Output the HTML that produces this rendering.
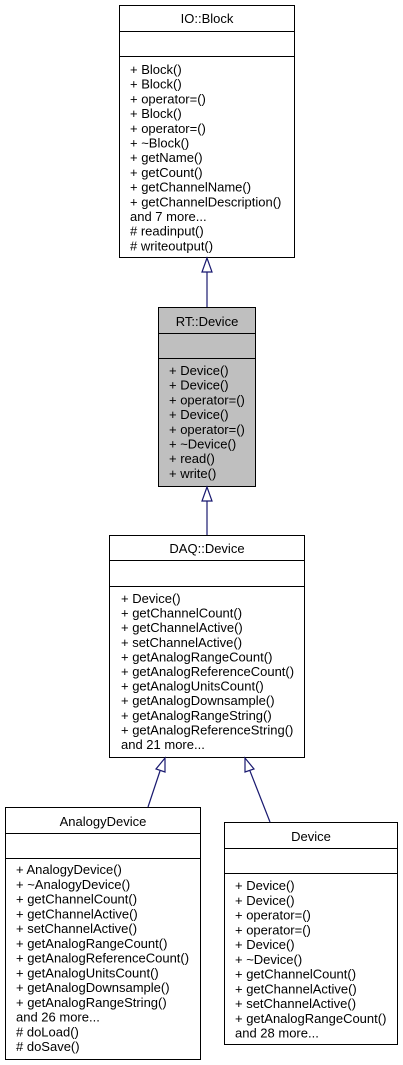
<!DOCTYPE html>
<html><head><meta charset="utf-8"><style>
html,body{margin:0;padding:0;background:#fff;}
svg{display:block;}
text{font-family:"Liberation Sans",Arial,sans-serif;font-size:13px;fill:#000;}
</style></head><body>
<svg width="403" height="1065" viewBox="0 0 403 1065" xmlns="http://www.w3.org/2000/svg">
<g stroke="#000" stroke-width="1" fill="#fff">
<rect x="119.5" y="5.5" width="175" height="252"/>
<line x1="119.5" y1="31.5" x2="294.5" y2="31.5"/>
<line x1="119.5" y1="56.5" x2="294.5" y2="56.5"/>
<rect x="158.5" y="307.5" width="97" height="179" fill="#bfbfbf"/>
<line x1="158.5" y1="333.5" x2="255.5" y2="333.5"/>
<line x1="158.5" y1="358.5" x2="255.5" y2="358.5"/>
<rect x="109.5" y="535.5" width="195" height="222"/>
<line x1="109.5" y1="560.5" x2="304.5" y2="560.5"/>
<line x1="109.5" y1="586.5" x2="304.5" y2="586.5"/>
<rect x="5.5" y="807.5" width="195" height="252"/>
<line x1="5.5" y1="833.5" x2="200.5" y2="833.5"/>
<line x1="5.5" y1="858.5" x2="200.5" y2="858.5"/>
<rect x="224.5" y="822.5" width="173" height="222"/>
<line x1="224.5" y1="848.5" x2="397.5" y2="848.5"/>
<line x1="224.5" y1="873.5" x2="397.5" y2="873.5"/>
</g>
<g stroke="#191970" stroke-width="1.2" fill="#fff">
<line x1="207" y1="272" x2="207" y2="307"/>
<polygon points="207,258 202,272 212,272"/>
<line x1="207" y1="501" x2="207" y2="535"/>
<polygon points="207,487 202,501 212,501"/>
<line x1="160" y1="771" x2="148" y2="807"/>
<polygon points="165,758 156,769 165,772"/>
<line x1="250" y1="771" x2="270" y2="822"/>
<polygon points="245,758 245,772 254,769"/>
</g>
<g>
<text x="207" y="23" text-anchor="middle">IO::Block</text>
<text x="130" y="74">+ Block()</text>
<text x="130" y="88.7">+ Block()</text>
<text x="130" y="103.4">+ operator=()</text>
<text x="130" y="118.1">+ Block()</text>
<text x="130" y="132.8">+ operator=()</text>
<text x="130" y="147.5">+ ~Block()</text>
<text x="130" y="162.2">+ getName()</text>
<text x="130" y="176.9">+ getCount()</text>
<text x="130" y="191.6">+ getChannelName()</text>
<text x="130" y="206.3">+ getChannelDescription()</text>
<text x="130" y="221">and 7 more...</text>
<text x="130" y="235.7"># readinput()</text>
<text x="130" y="250.4"># writeoutput()</text>

<text x="207" y="326" text-anchor="middle">RT::Device</text>
<text x="169" y="375">+ Device()</text>
<text x="169" y="389.7">+ Device()</text>
<text x="169" y="404.4">+ operator=()</text>
<text x="169" y="419.1">+ Device()</text>
<text x="169" y="433.8">+ operator=()</text>
<text x="169" y="448.5">+ ~Device()</text>
<text x="169" y="463.2">+ read()</text>
<text x="169" y="477.9">+ write()</text>

<text x="207" y="553" text-anchor="middle">DAQ::Device</text>
<text x="121" y="603">+ Device()</text>
<text x="121" y="617.6">+ getChannelCount()</text>
<text x="121" y="632.2">+ getChannelActive()</text>
<text x="121" y="646.8">+ setChannelActive()</text>
<text x="121" y="661.4">+ getAnalogRangeCount()</text>
<text x="121" y="676">+ getAnalogReferenceCount()</text>
<text x="121" y="690.6">+ getAnalogUnitsCount()</text>
<text x="121" y="705.2">+ getAnalogDownsample()</text>
<text x="121" y="719.8">+ getAnalogRangeString()</text>
<text x="121" y="734.4">+ getAnalogReferenceString()</text>
<text x="121" y="749">and 21 more...</text>

<text x="103" y="826" text-anchor="middle">AnalogyDevice</text>
<text x="16" y="874">+ AnalogyDevice()</text>
<text x="16" y="888.75">+ ~AnalogyDevice()</text>
<text x="16" y="903.5">+ getChannelCount()</text>
<text x="16" y="918.25">+ getChannelActive()</text>
<text x="16" y="933">+ setChannelActive()</text>
<text x="16" y="947.75">+ getAnalogRangeCount()</text>
<text x="16" y="962.5">+ getAnalogReferenceCount()</text>
<text x="16" y="977.25">+ getAnalogUnitsCount()</text>
<text x="16" y="992">+ getAnalogDownsample()</text>
<text x="16" y="1006.75">+ getAnalogRangeString()</text>
<text x="16" y="1021.5">and 26 more...</text>
<text x="16" y="1036.25"># doLoad()</text>
<text x="16" y="1051"># doSave()</text>

<text x="311" y="841" text-anchor="middle">Device</text>
<text x="235" y="890">+ Device()</text>
<text x="235" y="904.75">+ Device()</text>
<text x="235" y="919.5">+ operator=()</text>
<text x="235" y="934.25">+ operator=()</text>
<text x="235" y="949">+ Device()</text>
<text x="235" y="963.75">+ ~Device()</text>
<text x="235" y="978.5">+ getChannelCount()</text>
<text x="235" y="993.25">+ getChannelActive()</text>
<text x="235" y="1008">+ setChannelActive()</text>
<text x="235" y="1022.75">+ getAnalogRangeCount()</text>
<text x="235" y="1037.5">and 28 more...</text>
</g>
</svg>
</body></html>
